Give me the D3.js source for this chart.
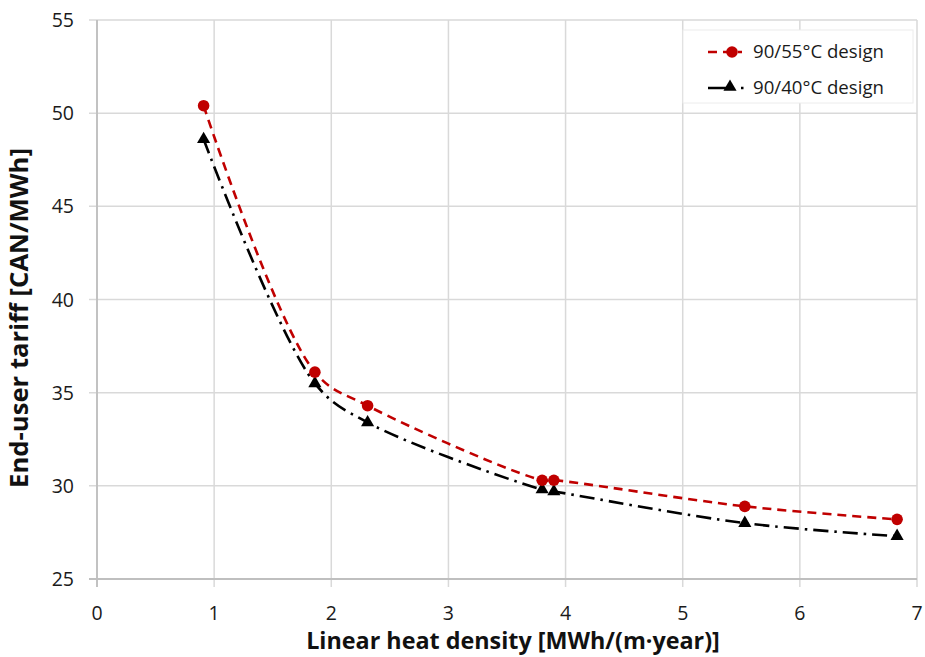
<!DOCTYPE html>
<html><head><meta charset="utf-8">
<script src="https://cdn.jsdelivr.net/npm/d3@7"></script>
<style>
body{margin:0;background:#fff;}
text{font-family:"Open Sans",Lato,sans-serif;}
</style></head>
<body>
<svg id="chart" width="925" height="657"></svg>
<script>
const xValues = [0.91, 1.86, 2.31, 3.80, 3.90, 5.53, 6.83];
const series55 = [50.4, 36.1, 34.3, 30.3, 30.3, 28.9, 28.2];
const series40 = [48.6, 35.5, 33.4, 29.8, 29.7, 28.0, 27.3];
const seriesNames = ["90/55°C design", "90/40°C design"];
const xTicks = [0,1,2,3,4,5,6,7];
const yTicks = [25,30,35,40,45,50,55];
const xTitle = "Linear heat density [MWh/(m·year)]";
const yTitle = "End-user tariff [CAN/MWh]";

const svg = d3.select("#chart");
const m = {left:97, right:8, top:20, bottom:78};
const W = 925, H = 657;
const x = d3.scaleLinear().domain([0,7]).range([m.left, W-m.right]);
const y = d3.scaleLinear().domain([25,55]).range([H-m.bottom, m.top]);

function fit(sel, target){
  const n = sel.node();
  const fs = parseFloat(sel.attr("font-size"));
  const w = n.getComputedTextLength();
  if (w>0) sel.attr("font-size", fs*target/w);
}

// grid
const g = svg.append("g");
g.selectAll(".gx").data(xTicks).enter().append("line")
  .attr("x1",d=>x(d)).attr("x2",d=>x(d)).attr("y1",y(55)).attr("y2",y(25)+8)
  .attr("stroke","#d9d9d9").attr("stroke-width",1.5);
g.selectAll(".gy").data(yTicks).enter().append("line")
  .attr("y1",d=>y(d)).attr("y2",d=>y(d)).attr("x1",x(0)-8).attr("x2",x(7))
  .attr("stroke","#d9d9d9").attr("stroke-width",1.5);
// axis lines
g.append("line").attr("x1",x(0)).attr("x2",x(0)).attr("y1",y(55)).attr("y2",y(25)+8).attr("stroke","#bfbfbf").attr("stroke-width",1.8);
g.append("line").attr("x1",x(0)-8).attr("x2",x(7)).attr("y1",y(25)).attr("y2",y(25)).attr("stroke","#bfbfbf").attr("stroke-width",1.8);

// tick labels
svg.selectAll(".xl").data(xTicks).enter().append("text")
  .attr("x",d=>x(d)).attr("y",y(25)+41).attr("text-anchor","middle")
  .attr("font-size",19.5).attr("fill","#1a1a1a").text(d=>d);
svg.selectAll(".yl").data(yTicks).enter().append("text")
  .attr("x",x(0)-23).attr("y",d=>y(d)+7).attr("text-anchor","end")
  .attr("font-size",19.5).attr("fill","#1a1a1a").text(d=>d);

// titles
const xt = svg.append("text").attr("x",513).attr("y",649).attr("text-anchor","middle")
  .attr("font-size",21).attr("font-weight","bold").attr("fill","#111").text(xTitle);
fit(xt, 414);
const yt = svg.append("text").attr("transform",`translate(28,318) rotate(-90)`)
  .attr("text-anchor","middle").attr("font-size",21).attr("font-weight","bold").attr("fill","#111").text(yTitle);
fit(yt, 340);

const pts55 = xValues.map((v,i)=>[v,series55[i]]);
const pts40 = xValues.map((v,i)=>[v,series40[i]]);
const line = d3.line().x(d=>x(d[0])).y(d=>y(d[1])).curve(d3.curveCatmullRom.alpha(0.5));

svg.append("path").attr("d",line(pts40)).attr("fill","none").attr("stroke","#000")
  .attr("stroke-width",2.6).attr("stroke-dasharray","15,6,2.5,6");
svg.append("path").attr("d",line(pts55)).attr("fill","none").attr("stroke","#c00000")
  .attr("stroke-width",2.6).attr("stroke-dasharray","9,6");

const tri = d3.symbol().type(d3.symbolTriangle).size(75);
svg.selectAll(".t").data(pts40).enter().append("path").attr("d",tri)
  .attr("transform",d=>`translate(${x(d[0])},${y(d[1])})`).attr("fill","#000");
svg.selectAll(".c").data(pts55).enter().append("circle")
  .attr("cx",d=>x(d[0])).attr("cy",d=>y(d[1])).attr("r",5.8).attr("fill","#c00000");

// legend
const lg = svg.append("g");
lg.append("rect").attr("x",683).attr("y",30).attr("width",230).attr("height",73)
  .attr("fill","#fff").attr("stroke","#ececec").attr("stroke-width",1);
lg.append("line").attr("x1",708).attr("x2",742).attr("y1",52).attr("y2",52)
  .attr("stroke","#c00000").attr("stroke-width",2.6).attr("stroke-dasharray","9,6");
lg.append("circle").attr("cx",732).attr("cy",52).attr("r",5.8).attr("fill","#c00000");
lg.append("line").attr("x1",708).attr("x2",744).attr("y1",88).attr("y2",88)
  .attr("stroke","#000").attr("stroke-width",2.6).attr("stroke-dasharray","21,12,2.5,6");
lg.append("path").attr("d",tri).attr("transform","translate(730,87)").attr("fill","#000");
lg.selectAll(".lt").data(seriesNames).enter().append("text")
  .attr("x",753).attr("y",(d,i)=>58+i*36).attr("font-size",17).attr("fill","#1a1a1a").text(d=>d)
  .each(function(){ fit(d3.select(this), 131); });
</script>
</body></html>
